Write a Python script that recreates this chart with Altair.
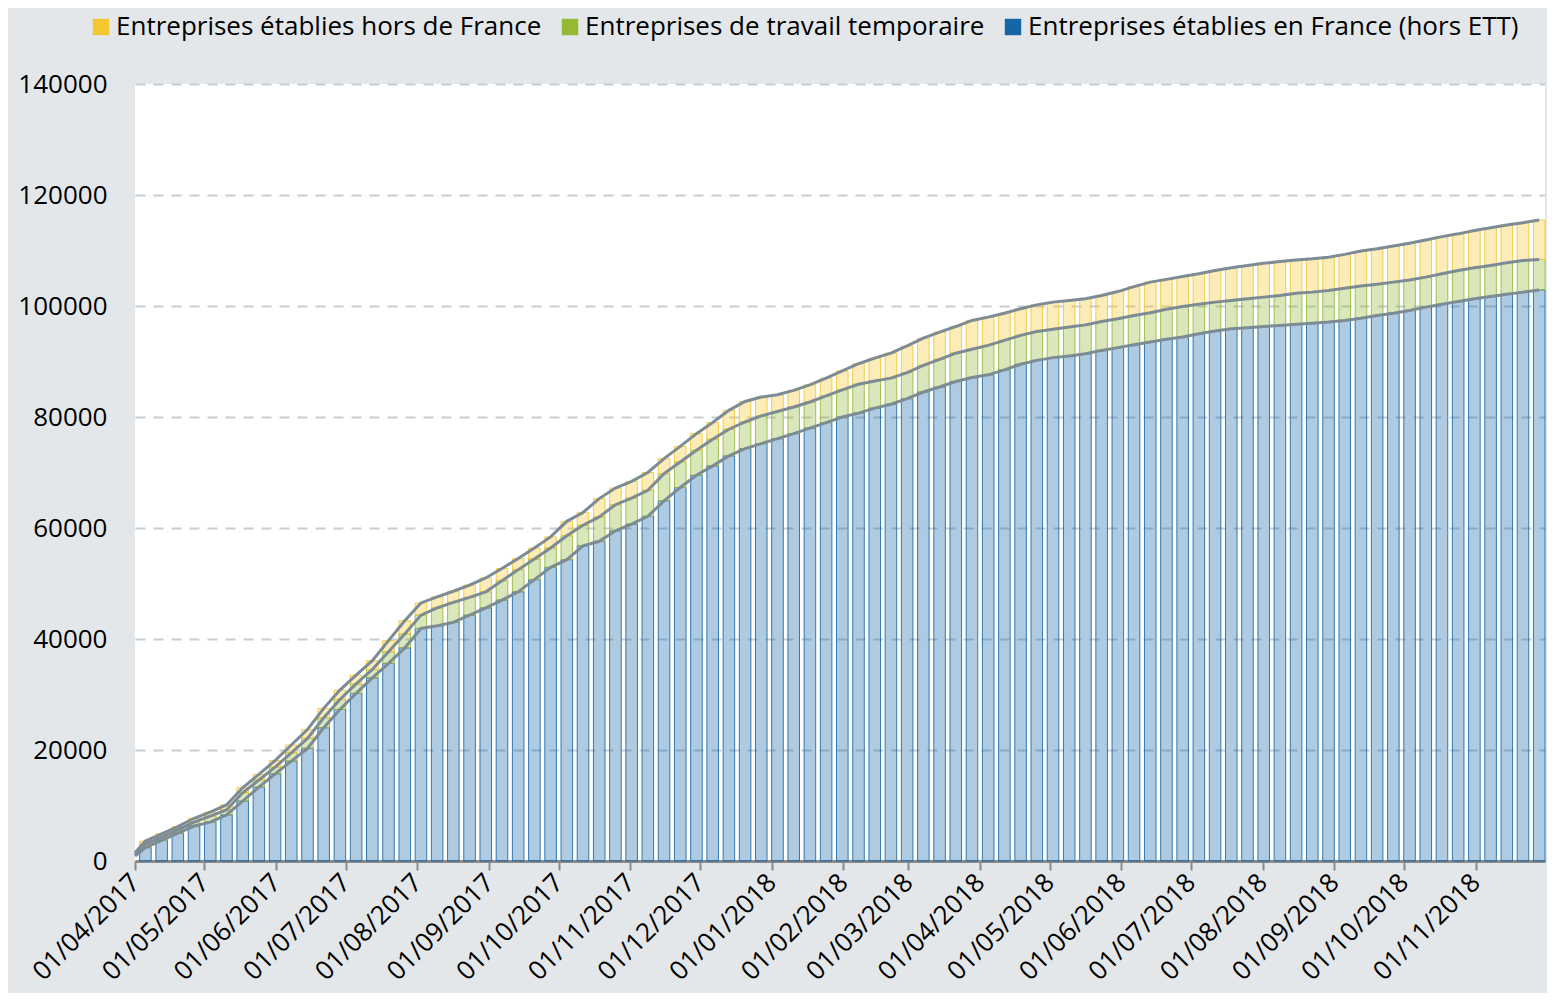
import altair as alt
import pandas as pd

# Series names (legend order)
HORS = "Entreprises établies hors de France"
ETT = "Entreprises de travail temporaire"
FRANCE = "Entreprises établies en France (hors ETT)"

# One reading per week (week starting Monday 03/04/2017)
week_start = pd.date_range("2017-04-03", periods=87, freq="7D")

france = [2400, 3700, 5000, 6300, 7000, 8300, 10800, 13300, 15700, 18000,
          20300, 24000, 27300, 30200, 33000, 35600, 38400, 41900, 42400, 43000,
          44300, 45600, 47000, 48500, 50700, 52900, 54300, 56800, 57600, 59500,
          60700, 62100, 64900, 67300, 69500, 71200, 73000, 74300, 75200, 76100,
          77000, 78000, 79000, 80000, 80700, 81600, 82300, 83300, 84500, 85400,
          86400, 87100, 87600, 88500, 89500, 90200, 90700, 91000, 91400, 92000,
          92500, 93000, 93500, 94000, 94400, 95000, 95500, 95900, 96100, 96300,
          96500, 96700, 96900, 97100, 97400, 97800, 98300, 98700, 99200, 99800,
          100300, 100800, 101300, 101700, 102100, 102500, 102900]

ett = [600, 600, 600, 700, 1100, 900, 1500, 1300, 1200, 1500,
       1800, 1800, 1800, 1700, 1500, 2100, 2500, 2400, 3200, 3600,
       3200, 2900, 3500, 4000, 3700, 3500, 4300, 3700, 4400, 4700,
       4700, 4700, 4900, 4600, 4500, 4800, 4800, 4800, 5000, 4900,
       4800, 4700, 4800, 4900, 5200, 4900, 4700, 4700, 4800, 5000,
       5100, 5100, 5300, 5300, 5200, 5200, 5100, 5200, 5200, 5200,
       5200, 5300, 5300, 5400, 5500, 5300, 5200, 5100, 5200, 5300,
       5400, 5600, 5600, 5700, 5800, 5800, 5600, 5600, 5500, 5400,
       5500, 5600, 5600, 5600, 5700, 5700, 5500]

hors = [600, 600, 600, 700, 700, 900, 900, 1000, 1200, 1400,
        1600, 1700, 1700, 1600, 1600, 2000, 2400, 2200, 2000, 2000,
        2200, 2500, 2200, 2000, 2000, 2000, 2600, 2300, 3300, 3000,
        3000, 3200, 2700, 2800, 3000, 3000, 3400, 3700, 3400, 3000,
        3000, 3100, 3200, 3400, 3700, 4100, 4500, 4800, 4900, 4900,
        4800, 5200, 5100, 4900, 4800, 4800, 4900, 4800, 4700, 4700,
        4900, 5200, 5500, 5400, 5400, 5500, 5700, 5900, 6000, 6100,
        6100, 6000, 6000, 6000, 6100, 6300, 6400, 6500, 6600, 6700,
        6700, 6600, 6700, 6800, 6800, 6800, 7100]

# Values on the first day shown (01/04/2017)
start_values = {FRANCE: 900, ETT: 300, HORS: 300}

month_ticks = ["2017-04-01", "2017-05-01", "2017-06-01", "2017-07-01", "2017-08-01",
               "2017-09-01", "2017-10-01", "2017-11-01", "2017-12-01", "2018-01-01",
               "2018-02-01", "2018-03-01", "2018-04-01", "2018-05-01", "2018-06-01",
               "2018-07-01", "2018-08-01", "2018-09-01", "2018-10-01", "2018-11-01"]

colors = {HORS: "#F4C62F", ETT: "#93B935", FRANCE: "#1566A8"}
order = [FRANCE, ETT, HORS]
values = {FRANCE: france, ETT: ett, HORS: hors}

# Build stacked table
rows = []
lines = []
base = 0
for lvl, s in enumerate(order):
    base += start_values[s]
    lines.append({"mid": "2017-04-01T00:00:00", "level": lvl, "top": base})
for i, ws in enumerate(week_start):
    base = 0
    for lvl, s in enumerate(order):
        v = values[s][i]
        rows.append({
            "start": ws.strftime("%Y-%m-%dT00:00:00"),
            "end": (ws + pd.Timedelta(days=5)).strftime("%Y-%m-%dT00:00:00"),
            "series": s, "y0": base, "y1": base + v,
        })
        base += v
        lines.append({
            "mid": (ws + pd.Timedelta(hours=60)).strftime("%Y-%m-%dT%H:%M:%S"),
            "level": lvl, "top": base,
        })
bars_df = pd.DataFrame(rows)
lines_df = pd.DataFrame(lines)

FONT = "Open Sans"
x_scale = alt.Scale(domain=[alt.DateTime(year=2017, month=4, date=1),
                            alt.DateTime(year=2018, month=12, date=1)], nice=False)
y_scale = alt.Scale(domain=[0, 140000], nice=False)

x_axis = alt.Axis(
    values=[alt.DateTime(year=int(t[:4]), month=int(t[5:7]), date=1) for t in month_ticks],
    format="%d/%m/%Y", title=None, grid=False,
    labelAngle=315, labelAlign="right", labelBaseline="middle",
    labelFont=FONT, labelFontSize=26, labelColor="#000000", labelPadding=8,
    domainColor="#8A8A8A", domainWidth=3, tickColor="#8A8A8A", tickWidth=2, tickSize=9,
    labelOverlap=False,
)
y_axis = alt.Axis(
    values=[0, 20000, 40000, 60000, 80000, 100000, 120000, 140000],
    format="d", title=None, grid=True, gridDash=[10, 8], gridColor="#C8CED2",
    gridWidth=2, domain=False, ticks=False, labelFont=FONT, labelFontSize=26,
    labelColor="#000000", labelPadding=28,
)

color_scale = alt.Scale(domain=[HORS, ETT, FRANCE],
                        range=[colors[HORS], colors[ETT], colors[FRANCE]])

bars = alt.Chart(bars_df).mark_bar(fillOpacity=0.34, strokeWidth=1, strokeOpacity=0.85).encode(
    x=alt.X("start:T", scale=x_scale, axis=x_axis),
    x2="end:T",
    y=alt.Y("y0:Q", scale=y_scale, axis=y_axis),
    y2="y1:Q",
    color=alt.Color("series:N", scale=color_scale, legend=alt.Legend(
        title=None, orient="none", legendX=-47, legendY=-70, direction="horizontal",
        symbolType="square", symbolSize=270, symbolOpacity=1, symbolStrokeWidth=0,
        labelFont=FONT, labelFontSize=26, labelColor="#000000", labelOffset=2,
        columnPadding=15, padding=0, labelLimit=700,
    )),
    stroke=alt.Stroke("series:N", scale=color_scale, legend=None),
)

series_lines = alt.Chart(lines_df).mark_line(color="#7C8B94", strokeWidth=3).encode(
    x=alt.X("mid:T", scale=x_scale),
    y=alt.Y("top:Q", scale=y_scale),
    detail="level:N",
    order="mid:T",
)

chart = alt.layer(bars, series_lines).properties(
    width=1410, height=777,
    autosize=alt.AutoSizeParams(type="none"),
    padding={"left": 127, "top": 76, "right": 2, "bottom": 132},
    background="#E3E7EA",
).configure_view(fill="#FFFFFF", stroke=None)

chart.save("out.html", embed_options={"renderer": "svg", "actions": False})
